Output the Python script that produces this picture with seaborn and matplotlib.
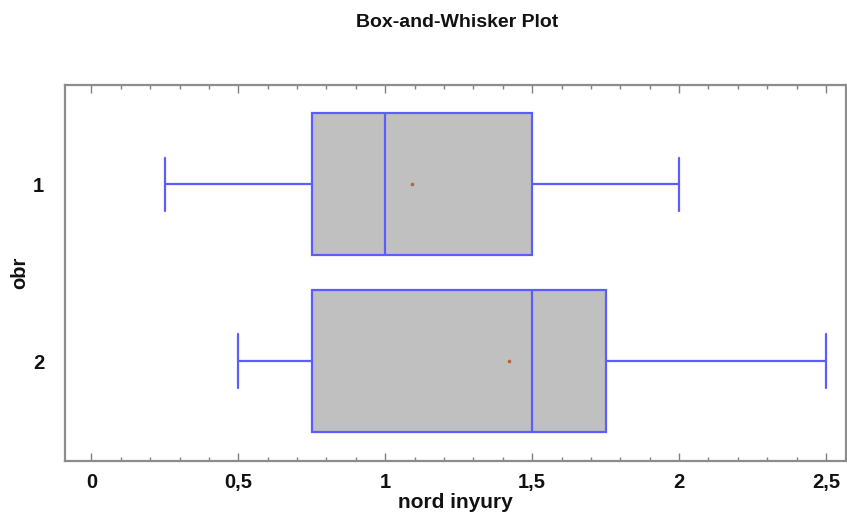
import numpy as np
import pandas as pd
import matplotlib
matplotlib.use('Agg')
import matplotlib.pyplot as plt
from matplotlib.ticker import MultipleLocator, FuncFormatter
import seaborn as sns

# valores (resumen de cinco numeros por grupo)
grupos = ['1', '2']
obr_1  = [0.25, 0.75, 1.0, 1.5, 2.0]
obr_2  = [0.5, 0.75, 1.5, 1.75, 2.5]
medias = [1.09, 1.42]

df = pd.DataFrame({
    'obr': ['1'] * len(obr_1) + ['2'] * len(obr_2),
    'nord inyury': obr_1 + obr_2,
})
df_medias = pd.DataFrame({'obr': grupos, 'nord inyury': medias})

sns.set_theme(style='white')
plt.rcParams['font.family'] = ['Liberation Sans', 'DejaVu Sans']
plt.rcParams['text.color'] = '#111111'
plt.rcParams['axes.labelcolor'] = '#111111'
plt.rcParams['xtick.labelcolor'] = '#111111'
plt.rcParams['ytick.labelcolor'] = '#111111'

fig = plt.figure(figsize=(8.47, 5.16), dpi=100)
ax = fig.add_axes([0.0767, 0.1066, 0.9221, 0.7287])

azul = '#5c5cff'
sns.boxplot(
    data=df, x='nord inyury', y='obr', order=grupos, orient='h',
    whis=np.inf, width=0.8, color='#c0c0c0', saturation=1,
    linecolor=azul, linewidth=1.6, showfliers=False, capwidths=0.3,
    ax=ax
)
sns.stripplot(
    data=df_medias, x='nord inyury', y='obr', order=grupos, orient='h',
    jitter=False, size=2.6, color='#b8642e', linewidth=0, ax=ax
)

ax.set_xlim(-0.09, 2.568)
ax.set_ylim(1.565, -0.56)

ax.xaxis.set_major_locator(MultipleLocator(0.5))
ax.xaxis.set_minor_locator(MultipleLocator(0.1))
ax.xaxis.set_major_formatter(FuncFormatter(lambda v, p: f'{v:g}'.replace('.', ',')))
ax.tick_params(axis='x', which='major', direction='in', length=6, width=1,
               color='#808080', top=True, bottom=True, labelsize=14.5, pad=9)
ax.tick_params(axis='x', which='minor', direction='in', length=3, width=1,
               color='#808080', top=True, bottom=True)
ax.tick_params(axis='y', length=0, labelsize=14.5, pad=15)
for lbl in ax.get_xticklabels() + ax.get_yticklabels():
    lbl.set_fontweight('bold')

for s in ax.spines.values():
    s.set_color('#8c8c8c')
    s.set_linewidth(1.6)

ax.set_xlabel('nord inyury', fontsize=15, fontweight='bold')
ax.xaxis.set_label_coords(0.5, -0.085)
ax.set_ylabel('obr', fontsize=14.5, fontweight='bold')
ax.yaxis.set_label_coords(-0.046, 0.5)
fig.suptitle('Box-and-Whisker Plot', fontsize=14, fontweight='bold',
             x=0.54, y=0.972)

plt.savefig('out.png', dpi=100)
